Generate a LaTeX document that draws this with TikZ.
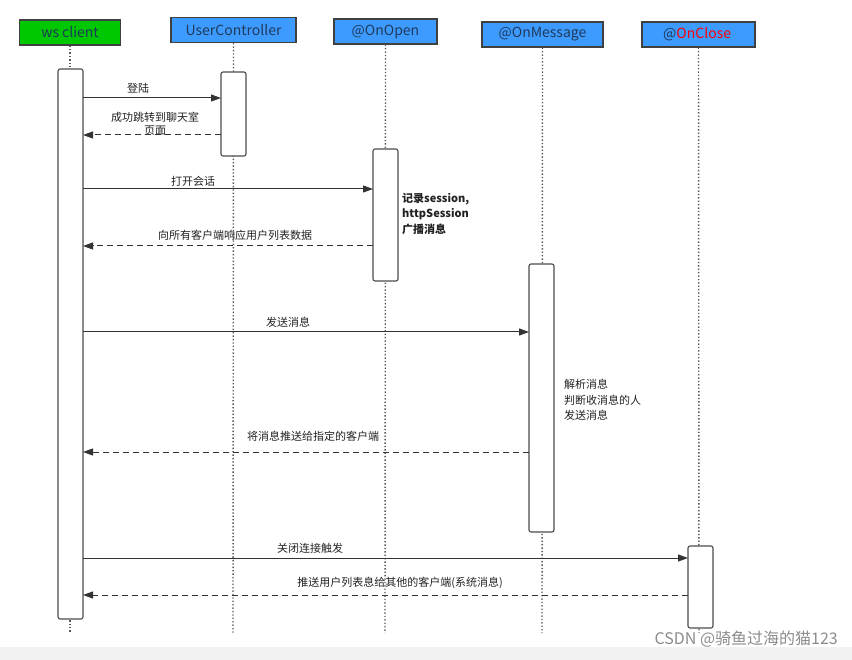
\documentclass[tikz,border=0pt]{standalone}
\usepackage{fontspec}
\setmainfont{Noto Sans CJK SC}
\usetikzlibrary{arrows.meta}
\definecolor{hblue}{HTML}{3D9BFF}
\definecolor{hgreen}{HTML}{00C800}
\definecolor{htext}{HTML}{1F3A5A}
\definecolor{ltext}{HTML}{222222}
\begin{document}
\begin{tikzpicture}[x=1pt,y=-1pt,
  head/.style={draw=black!75,line width=1.2pt,minimum height=25pt,inner sep=0pt,font=\fontsize{14}{16}\selectfont,text=htext},
  life/.style={draw=black!65,dotted,line width=1.4pt},
  actbox/.style={draw=black!70,fill=white,line width=1.1pt,rounded corners=2pt},
  msg/.style={draw=black!80,line width=1pt,-{Triangle[length=10pt,width=7pt]}},
  ret/.style={msg,dashed,dash pattern=on 6pt off 4pt},
  lbl/.style={font=\fontsize{11}{13}\selectfont,text=ltext,inner sep=1pt},
  note/.style={font=\fontsize{11}{15.5}\selectfont,text=ltext,align=left,anchor=north west,inner sep=0pt}]
\useasboundingbox (0,0) rectangle (852,660);
\fill[white] (0,0) rectangle (852,660);
\fill[black!5] (0,647) rectangle (852,660);
% headers
\node[head,fill=hgreen,minimum width=101pt] (h1) at (70,32.5) {ws client};
\node[head,fill=hblue,minimum width=125pt] (h2) at (233.5,30) {UserController};
\node[head,fill=hblue,minimum width=103pt] (h3) at (385.5,31.5) {@OnOpen};
\node[head,fill=hblue,minimum width=121pt] (h4) at (542.5,34.5) {@OnMessage};
\node[head,fill=hblue,minimum width=113pt] (h5) at (698.5,34.5) {\phantom{@OnClose}};
\node[font=\fontsize{14}{16}\selectfont,inner sep=0pt,anchor=west] (h5t) at (663,34.5) {\textcolor{htext}{@}\textcolor{red}{OnClose}};
% lifeline ends
\coordinate (e1) at (70,633);
\coordinate (e2) at (233,633);
\coordinate (e3) at (385,633);
\coordinate (e4) at (542,633);
\coordinate (e5) at (699,633);
\draw[life] (h1.south) -- (e1);
\draw[life] (h2.south) -- (e2);
\draw[life] (h3.south) -- (e3);
\draw[life] (h4.south) -- (e4);
\draw[life] (h5.south) -- (e5);
% activations
\draw[actbox] (58,69) rectangle (83,619);
\draw[actbox] (221,72) rectangle (246,156);
\draw[actbox] (373,149) rectangle (398,281);
\draw[actbox] (529,264) rectangle (554,532);
\draw[actbox] (688,546) rectangle (713,628);
% message endpoints
\coordinate (c1) at (83,98);   \coordinate (u1) at (221,98);
\coordinate (u2) at (221,135); \coordinate (c2) at (83,135);
\coordinate (c3) at (83,189);  \coordinate (o3) at (373,189);
\coordinate (o4) at (373,246); \coordinate (c4) at (83,246);
\coordinate (c5) at (83,332);  \coordinate (m5) at (529,332);
\coordinate (m6) at (529,452); \coordinate (c6) at (83,452);
\coordinate (c7) at (83,558);  \coordinate (x7) at (688,558);
\coordinate (x8) at (688,595); \coordinate (c8) at (83,595);
\draw[msg] (c1) -- (u1);
\draw[ret] (u2) -- (c2);
\draw[msg] (c3) -- (o3);
\draw[ret] (o4) -- (c4);
\draw[msg] (c5) -- (m5);
\draw[ret] (m6) -- (c6);
\draw[msg] (c7) -- (x7);
\draw[ret] (x8) -- (c8);
% labels
\node[lbl] (l1) at (138,88) {登陆};
\node[lbl,align=center] (l2) at (155,124) {成功跳转到聊天室\\页面};
\node[lbl] (l3) at (193,181) {打开会话};
\node[lbl] (l4) at (235,235) {向所有客户端响应用户列表数据};
\node[lbl] (l5) at (288,322) {发送消息};
\node[lbl] (l6) at (313,436) {将消息推送给指定的客户端};
\node[lbl] (l7) at (310,548) {关闭连接触发};
\node[lbl] (l8) at (400,583) {推送用户列表息给其他的客户端(系统消息)};
\node[note,font=\bfseries\fontsize{11}{15.5}\selectfont] (n1) at (402,193) {记录session,\\httpSession\\广播消息};
\node[note] (n2) at (564,379) {解析消息\\判断收消息的人\\发送消息};
\node[font=\fontsize{16}{18}\selectfont,text=black!45,anchor=east,inner sep=0pt] (wm) at (838,639) {CSDN @骑鱼过海的猫123};
\end{tikzpicture}
\end{document}
